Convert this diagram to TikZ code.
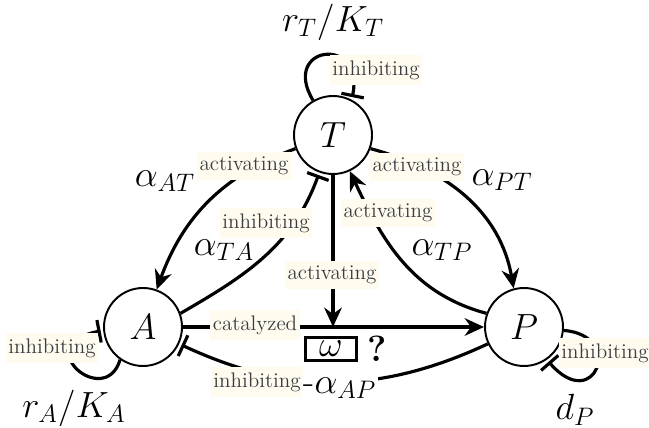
\documentclass[tikz,border=0pt]{standalone}
\usepackage{tikz}
\usepackage{xcolor}
\usetikzlibrary{shapes,arrows,arrows.meta,positioning,backgrounds}

\definecolor{tagfill}{RGB}{255,251,238}
\definecolor{tagtext}{RGB}{58,60,66}

\begin{document}
\begin{tikzpicture}[x=0.02cm, y=-0.02cm]
            \tikzstyle{species} = [circle, draw, line width=1.1pt, fill=white, minimum size=1.56cm, inner sep=0pt, font=\huge]
            \tikzstyle{tag} = [fill=tagfill, text=tagtext, inner xsep=1.5pt, inner ysep=3pt, font=\large]
            \tikzstyle{rate} = [font=\huge, inner sep=1pt]
            \tikzstyle{act} = [line width=1.8pt, -{Stealth[length=11pt,width=10pt]}]
            \tikzstyle{inh} = [line width=1.8pt, -{Bar[width=13pt]}, shorten >=1.5pt]

            \useasboundingbox (0,0) rectangle (649,428);

            \node [species] (T) at (333,135) {$T$};
            \node [species] (A) at (143,327) {$A$};
            \node [species] (P) at (524,327) {$P$};
            \coordinate (junc) at (333,327);

            % interaction labels
            \node [tag] (lTT) at (376,70) {inhibiting};
            \node [tag] (lAT) at (244,166) {activating};
            \node [tag] (lPT) at (417,167) {activating};
            \node [tag] (lTA) at (266,223) {inhibiting};
            \node [tag] (lTP) at (388,213) {activating};
            \node [tag] (lTw) at (332,275) {activating};
            \node [tag] (lAP) at (255,325) {catalyzed};
            \node [tag] (lPA) at (257,382) {inhibiting};
            \node [tag] (lAA) at (52,348) {inhibiting};
            \node [tag] (lPP) at (605,353) {inhibiting};

            % rates
            \node [rate] (rT) at (333,22) {$r_T/K_T$};
            \node [rate] (aAT) at (165,181) {$\alpha_{AT}$};
            \node [rate] (aTA) at (224,250) {$\alpha_{TA}$};
            \node [rate] (aPT) at (502,180) {$\alpha_{PT}$};
            \node [rate] (aTP) at (442,250) {$\alpha_{TP}$};
            \node [rate, fill=white] (aAP) at (340,388) {-$\alpha_{AP}$};
            \node [rate] (rA) at (74,408) {$r_A/K_A$};
            \node [rate] (dP) at (575,410) {$d_P$};

            \node [draw, line width=1.2pt, minimum width=1.02cm, minimum height=0.46cm, inner sep=0pt, font=\huge] (omega) at (331,349) {$\omega$};
            \node [font=\huge\bfseries, right=0.08cm of omega] (q) {?};

            \begin{scope}[on background layer]
                \draw [act] (T.200) to[out=200, in=70] (A.70);
                \draw [inh] (A.20) to[out=30, in=250] (T.250);
                \draw [act] (T.340) to[out=-15, in=100] (P.105);
                \draw [act] (P.160) to[out=165, in=-65] (T.295);
                \draw [act] (T.south) -- (junc);
                \draw [act] (A.east) -- (P.west);
                \draw [inh] (P.205) to[out=205, in=-25] (A.-25);
                % self loops
                \draw [inh] (T.120) .. controls (280,45) and (365,35) .. (T.62);
                \draw [inh] (A.235) .. controls (105,410) and (28,345) .. (A.185);
                \draw [inh] (P.-5) .. controls (625,335) and (595,415) .. (P.-55);
            \end{scope}
        \end{tikzpicture}
\end{document}
